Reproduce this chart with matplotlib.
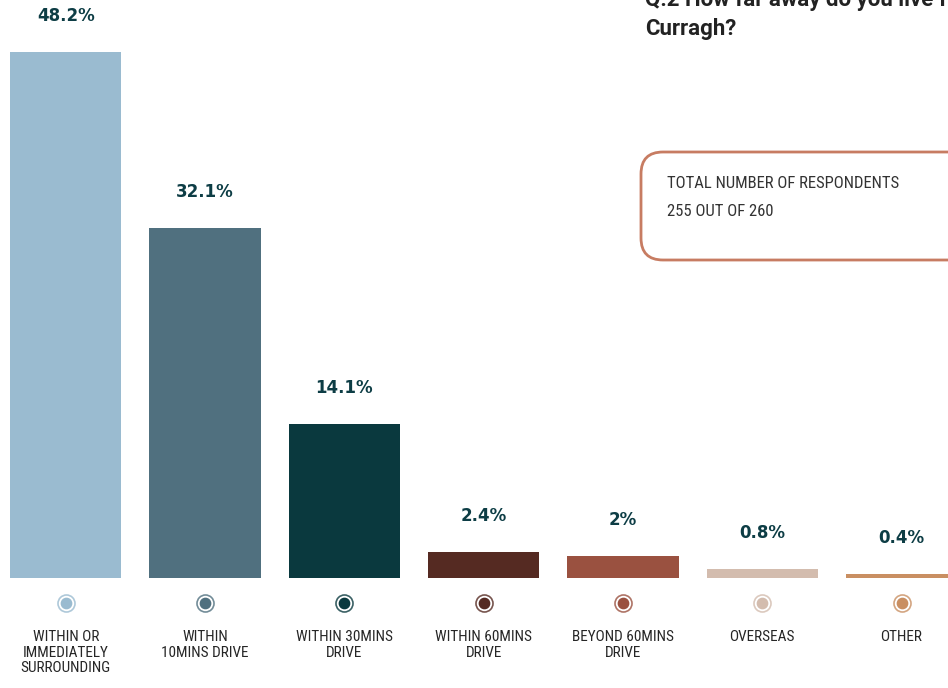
import matplotlib
matplotlib.use('Agg')
import matplotlib.pyplot as plt
from matplotlib.patches import FancyBboxPatch
from matplotlib.transforms import IdentityTransform
from matplotlib import font_manager

# data
categories = ['WITHIN OR\nIMMEDIATELY\nSURROUNDING', 'WITHIN\n10MINS DRIVE',
              'WITHIN 30MINS\nDRIVE', 'WITHIN 60MINS\nDRIVE',
              'BEYOND 60MINS\nDRIVE', 'OVERSEAS', 'OTHER']
values = [48.2, 32.1, 14.1, 2.4, 2.0, 0.8, 0.4]
pct_labels = ['48.2%', '32.1%', '14.1%', '2.4%', '2%', '0.8%', '0.4%']
colors = ['#9abbd0', '#50707f', '#0a393e', '#552a22', '#9a5140', '#d3bcae', '#c98f62']

title_lines = ['Q.2 How far away do you live from the', 'Curragh?']
box_lines = ['TOTAL NUMBER OF RESPONDENTS', '255 OUT OF 260']

# fonts: pick a condensed face if one is installed
names = {f.name for f in font_manager.fontManager.ttflist}
if 'Roboto Condensed' in names:
    narrow, cat_fs, box_fs = 'Roboto Condensed', 11, 12
elif 'Liberation Sans Narrow' in names:
    narrow, cat_fs, box_fs = 'Liberation Sans Narrow', 10.5, 11.5
else:
    narrow, cat_fs, box_fs = 'Liberation Sans', 9, 10

W, H, DPI = 948, 688, 100
fig = plt.figure(figsize=(W / DPI, H / DPI), dpi=DPI)
ax = fig.add_axes([0, 0, 1, 1])

# pixel layout
base_px = 110          # baseline from bottom
top_px = 636           # top of the tallest bar
pitch = 139.3
scale = (top_px - base_px) / max(values)
ax.set_ylim(-base_px / scale, (H - base_px) / scale)
x0 = -0.4 - 10 / pitch
ax.set_xlim(x0, x0 + W / pitch)
ax.axis('off')

xs = list(range(len(values)))
ax.bar(xs, values, width=0.8, color=colors, zorder=2)

for x, v, lab, c, cat in zip(xs, values, pct_labels, colors, categories):
    ax.annotate(lab, (x, v), xytext=(0, 26), textcoords='offset points',
                ha='center', va='center', fontsize=12, fontweight='bold',
                color='#0d3d45', family='DejaVu Sans')
    # legend-like marker
    ax.scatter([x], [-25 / scale], s=150, facecolor='white', edgecolor=c,
               linewidth=1.2, alpha=0.8, zorder=3, clip_on=False)
    ax.scatter([x], [-25 / scale], s=55, color=c, zorder=4, clip_on=False)
    ax.annotate(cat, (x, 0), xytext=(0, -37.5), textcoords='offset points',
                ha='center', va='top', fontsize=cat_fs, color='#262626',
                family=narrow, linespacing=1.15)

# title (runs off the right edge as in the source)
fig.text(645 / W, (H - 6) / H, title_lines[0], ha='left', va='baseline',
         fontsize=16, fontweight='bold', color='#222222',
         family=['Roboto', 'DejaVu Sans'])
fig.text(645 / W, (H - 35) / H, title_lines[1], ha='left', va='baseline',
         fontsize=16, fontweight='bold', color='#222222',
         family=['Roboto', 'DejaVu Sans'])

# respondents box
box = FancyBboxPatch((641 + 20, H - 260 + 20), 400, 108 - 40,
                     boxstyle='round,pad=20,rounding_size=22',
                     transform=IdentityTransform(), facecolor='white',
                     edgecolor='#c77c62', linewidth=2, zorder=5)
fig.add_artist(box)
for i, line in enumerate(box_lines):
    fig.text(667 / W, (H - 184 - 28 * i) / H, line, ha='left', va='center',
             fontsize=box_fs, color='#333333', family=narrow, zorder=6)

plt.savefig('out.png', dpi=DPI)
